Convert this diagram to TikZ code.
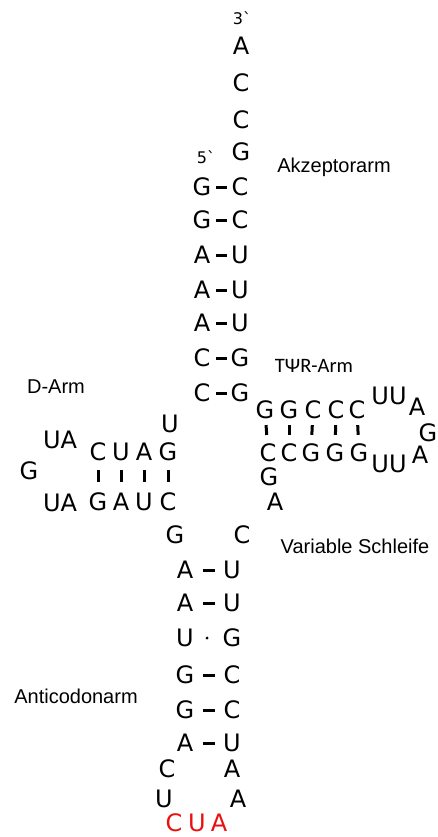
\documentclass[tikz,border=0pt]{standalone}
\usepackage{fontspec}
\setmainfont{Liberation Sans}
\newfontfamily\basefont{DejaVu Sans}
\newfontfamily\armfont{Carlito}
\usetikzlibrary{calc}
\definecolor{codonred}{RGB}{232,16,16}

\begin{document}
\begin{tikzpicture}[
x=1pt, y=-1pt,
base/.style ={inner sep=0pt, font=\basefont\fontsize{24}{24}\selectfont},
codon/.style ={base, text=codonred},
prime/.style ={inner sep=0pt, font=\basefont\fontsize{16}{16}\selectfont},
arm/.style ={inner sep=0pt, anchor=base, font=\fontsize{20}{20}\selectfont},
bond/.style ={draw, line width=3pt}
]
\useasboundingbox (0,0) rectangle (438,837);

% Akzeptorarm
\node[prime] (end3) at (242,18) {3ˋ};
\node[base] (acc1) at (241,46) {A};
\node[base] (acc2) at (241,83) {C};
\node[base] (acc3) at (241,120) {C};
\node[base] (acc4) at (241,152) {G};
\node[prime] (end5) at (206,157) {5ˋ};
\foreach \i/\l/\r/\y in {1/G/C/187, 2/G/C/220, 3/A/U/255, 4/A/U/290,
                         5/A/U/323, 6/C/G/358, 7/C/G/393} {
  \node[base] (accl\i) at (202,\y) {\l};
  \node[base] (accr\i) at (240,\y) {\r};
  \draw[bond] ($(accl\i)!0.37!(accr\i)$) -- ($(accl\i)!0.65!(accr\i)$);
}

% D-Arm
\node[base] (dtop) at (170,424) {U};
\foreach \i/\t/\b/\x in {1/C/G/98, 2/U/A/121, 3/A/U/144, 4/G/C/168} {
  \node[base] (dt\i) at (\x,452) {\t};
  \node[base] (db\i) at (\x,502) {\b};
  \draw[bond] ($(dt\i)!0.36!(db\i)$) -- ($(dt\i)!0.6!(db\i)$);
}
\node[base] (dloop1) at (60,440) {UA};
\node[base] (dloop2) at (29,471) {G};
\node[base] (dloop3) at (60,503) {UA};

% TPsiR-Arm
\foreach \i/\t/\b/\x/\xb in {1/G/C/265/268, 2/G/C/289/289, 3/C/G/313/311,
                             4/C/G/336/335, 5/C/G/357/359} {
  \node[base] (tt\i) at (\x,410) {\t};
  \node[base] (tb\i) at (\xb,453) {\b};
  \draw[bond] ($(tt\i)!0.35!(tb\i)$) -- ($(tt\i)!0.58!(tb\i)$);
}
\node[base] (tloop1) at (389,396) {UU};
\node[base] (tloop2) at (417,407) {A};
\node[base] (tloop3) at (428,433) {G};
\node[base] (tloop4) at (420,455) {A};
\node[base] (tloop5) at (389,464) {UU};
\node[base] (var1) at (269,477) {G};
\node[base] (var2) at (275,502) {A};

% Anticodonarm
\node[base] (ac0l) at (175,535) {G};
\node[base] (ac0r) at (242,535) {C};
\foreach \i/\l/\r/\y in {1/A/U/570, 2/A/U/603, 4/G/C/675, 5/G/C/710, 6/A/U/743} {
  \node[base] (acl\i) at (185,\y) {\l};
  \node[base] (acr\i) at (232,\y) {\r};
  \draw[bond] ($(acl\i)!0.39!(acr\i)$) -- ($(acl\i)!0.64!(acr\i)$);
}
\node[base] (acl3) at (185,638) {U};
\node[base] (acr3) at (232,638) {G};
\fill ($(acl3)!0.47!(acr3)$) circle (1.6);
\node[base] (loopl1) at (167,769) {C};
\node[base] (loopr1) at (232,769) {A};
\node[base] (loopl2) at (164,799) {U};
\node[base] (loopr2) at (238,799) {A};
\node[codon] (cod1) at (174,823) {C};
\node[codon] (cod2) at (197,823) {U};
\node[codon] (cod3) at (219,823) {A};

% labels
\node[arm] (lacc) at (334,172) {Akzeptorarm};
\node[arm, font=\armfont\fontsize{20.5}{20.5}\selectfont] (ltpr) at (314,372) {TΨR-Arm};
\node[arm] (ldarm) at (56,393) {D-Arm};
\node[arm] (lvar) at (355,553) {Variable Schleife};
\node[arm] (lanti) at (76,703) {Anticodonarm};
\end{tikzpicture}
\end{document}
